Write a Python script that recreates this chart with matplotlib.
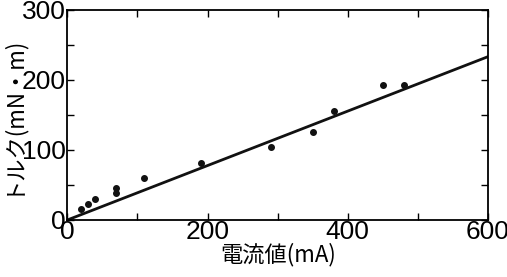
import numpy as np
import matplotlib
matplotlib.use('Agg')
import matplotlib.pyplot as plt
from matplotlib.ticker import MultipleLocator

# data
current_ma = [20, 30, 40, 70, 70, 110, 190, 290, 350, 380, 450, 480]
torque = [16, 23, 30, 45, 38, 60, 82, 104, 126, 156, 192, 192]
fit_x = [0, 600]
fit_y = [0, 233]

plt.rcParams['font.family'] = ['Liberation Sans', 'Noto Sans CJK JP', 'DejaVu Sans']

fig = plt.figure(figsize=(5.07, 2.77), dpi=100)
ax = fig.add_axes([0.1328, 0.2058, 0.8297, 0.7592])

ax.plot(fit_x, fit_y, color='#111111', lw=2.0)
ax.scatter(current_ma, torque, s=16, color='#111111', zorder=3)

ax.set_xlim(0, 600)
ax.set_ylim(0, 300)
ax.xaxis.set_major_locator(MultipleLocator(200))
ax.xaxis.set_minor_locator(MultipleLocator(100))
ax.yaxis.set_major_locator(MultipleLocator(100))
ax.yaxis.set_minor_locator(MultipleLocator(50))
ax.tick_params(which='both', direction='in', top=True, right=True,
               length=5, width=1.0, labelsize=19, pad=1)
ax.tick_params(axis='x', pad=0)
for s in ax.spines.values():
    s.set_linewidth(1.3)

ax.set_xlabel('電流値(mA)', fontsize=16, family=['Noto Sans CJK JP', 'DejaVu Sans'], labelpad=-1)
ax.set_ylabel('トルク(mN・m)', fontsize=16, family=['Noto Sans CJK JP', 'DejaVu Sans'], labelpad=0)

fig.savefig('out.png', dpi=100)
